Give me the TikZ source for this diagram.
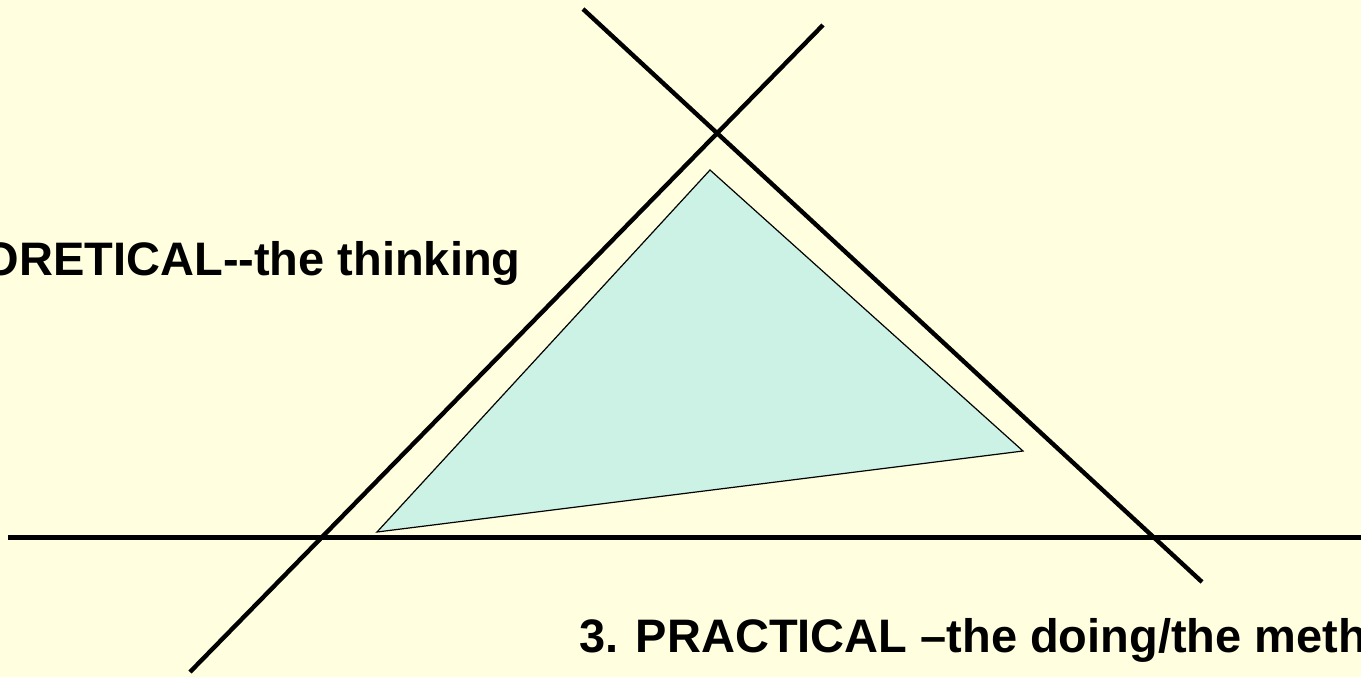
\documentclass[tikz,border=0pt]{standalone}
\usepackage{fontspec}
\setmainfont{Liberation Sans}
\definecolor{paper}{RGB}{255,255,224}
\definecolor{tricyan}{RGB}{204,242,230}

\begin{document}
\begin{tikzpicture}[x=0.5pt,y=-0.5pt,
    axisline/.style={line width=2.2pt,black},
    sidelabel/.style={font=\fontsize{23.5}{28}\selectfont\bfseries,inner sep=0pt}]
  \fill[paper] (0,0) rectangle (1361,677);
  \useasboundingbox (0,0) rectangle (1361,677);
  \clip (0,0) rectangle (1361,677);
  % inner triangle
  \coordinate (T) at (710,170); \coordinate (L) at (377,532); \coordinate (R) at (1023,451);
  \filldraw[fill=tricyan,draw=black,line width=0.6pt] (T) -- (L) -- (R) -- cycle;
  % the three crossing lines
  \coordinate (a1) at (583,9);  \coordinate (a2) at (1202,582);
  \coordinate (b1) at (823,25); \coordinate (b2) at (190,672);
  \coordinate (c1) at (8,537.5); \coordinate (c2) at (1370,537.5);
  \draw[axisline] (a1) -- (a2);
  \draw[axisline] (b1) -- (b2);
  \draw[axisline] (c1) -- (c2);
  % labels
  \node[sidelabel,anchor=base east] (theory) at (521,275) {ORETICAL-{}-the thinking};
  \node[sidelabel,anchor=base west] (practice) at (579,652) {3. PRACTICAL –the doing/the meth};
\end{tikzpicture}
\end{document}
